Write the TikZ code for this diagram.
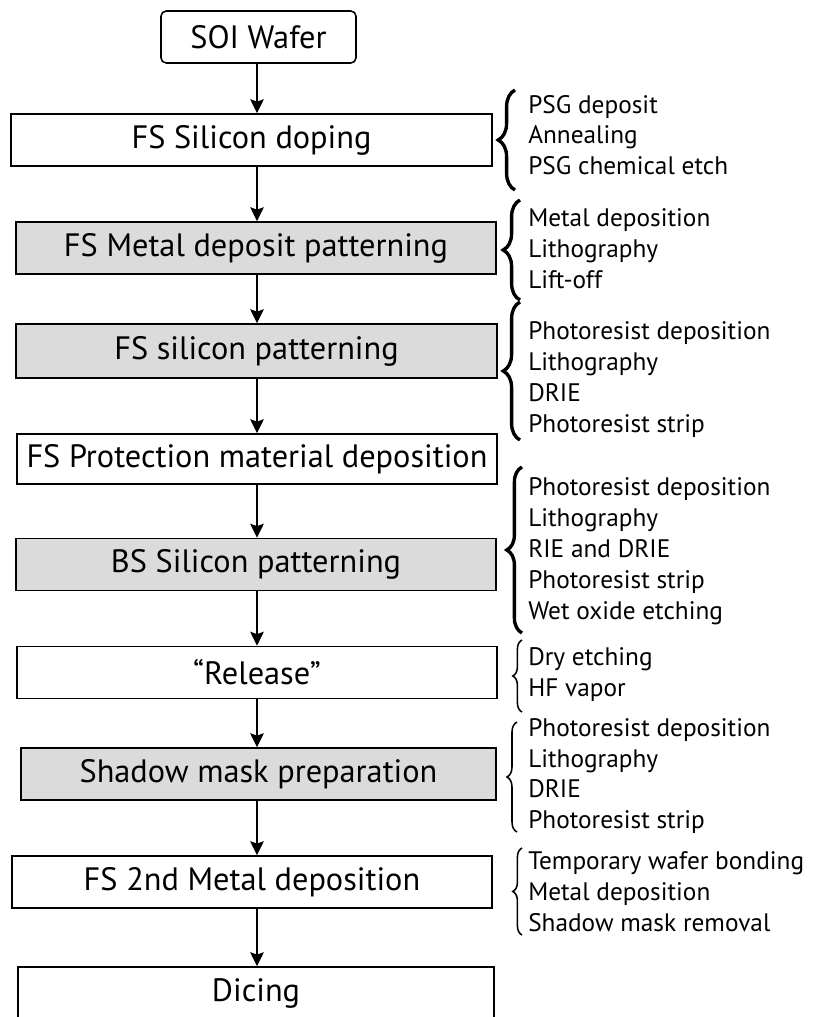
\documentclass[tikz,border=0pt]{standalone}
\usepackage{fontspec}
\setmainfont{PT Sans}
\usetikzlibrary{arrows.meta,decorations.pathreplacing}

\begin{document}
\begin{tikzpicture}[
  stage/.style={draw, line width=1.1pt, minimum height=1.3cm, inner sep=0pt, font=\fontsize{23}{26}\selectfont},
  grey/.style={stage, fill=black!14},
  substeps/.style={anchor=west, align=left, inner sep=0pt, font=\fontsize{18}{22}\selectfont},
  flow/.style={-{Stealth[length=3.5mm,width=3.4mm,inset=0.6mm]}, line width=0.9pt},
  curly/.style={decorate, decoration={brace, amplitude=#1}, line width=2.4pt},
  thincurly/.style={curly=#1, line width=1.1pt}
]
\useasboundingbox (0,0) rectangle (20.35,-25.425);
\coordinate (axis) at (6.425,0);

\node [stage, rounded corners=1.3mm, minimum width=4.875cm] (soi) at (6.4625,-0.925) {SOI Wafer};
\node [stage, minimum width=12.025cm] (doping) at (6.2875,-3.5) {FS Silicon doping};
\node [grey, minimum width=12cm] (metal) at (6.4,-6.2) {FS Metal deposit patterning};
\node [grey, minimum width=12.025cm, minimum height=1.35cm] (fssi) at (6.4125,-8.775) {FS silicon patterning};
\node [stage, minimum width=12cm, minimum height=1.25cm] (protect) at (6.425,-11.475) {FS Protection material deposition};
\node [grey, minimum width=12cm] (bssi) at (6.4,-14.1125) {BS Silicon patterning};
\node [stage, minimum width=12cm] (release) at (6.425,-16.8125) {“Release”};
\node [grey, minimum width=11.875cm] (shadow) at (6.4625,-19.35) {Shadow mask preparation};
\node [stage, minimum width=12cm] (metaltwo) at (6.3,-22.05) {FS 2nd Metal deposition};
\node [stage, minimum width=11.9cm] (dicing) at (6.4,-24.825) {Dicing};

\foreach \a/\b in {soi/doping, doping/metal, metal/fssi, fssi/protect, protect/bssi, bssi/release, release/shadow, shadow/metaltwo, metaltwo/dicing}
  \draw [flow] (\a.south -| axis) -- (\b.north -| axis);

\node [substeps] (dopingsteps) at (13.2,-3.445) {\strut PSG deposit\\Annealing\\PSG chemical etch\strut};
\node [substeps] (metalsteps) at (13.2,-6.2825) {\strut Metal deposition\\Lithography\\Lift-off\strut};
\node [substeps] (fssisteps) at (13.2,-9.495) {\strut Photoresist deposition\\Lithography\\DRIE\\Photoresist strip\strut};
\node [substeps] (bssisteps) at (13.2,-13.7825) {\strut Photoresist deposition\\Lithography\\RIE and DRIE\\Photoresist strip\\Wet oxide etching\strut};
\node [substeps] (releasesteps) at (13.2,-16.87) {\strut Dry etching\\HF vapor\strut};
\node [substeps] (shadowsteps) at (13.2,-19.4075) {\strut Photoresist deposition\\Lithography\\DRIE\\Photoresist strip\strut};
\node [substeps] (metaltwosteps) at (13.2,-22.3575) {\strut Temporary wafer bonding\\Metal deposition\\Shadow mask removal\strut};

\draw [curly=4.2mm] (12.875,-4.75) -- (12.875,-2.25);
\draw [curly=4.2mm] (13.0,-7.5) -- (13.0,-5.0);
\draw [curly=4.2mm] (13.0,-11.0) -- (13.0,-7.55);
\draw [curly=3.8mm] (13.05,-15.825) -- (13.05,-11.675);
\draw [thincurly=2.3mm] (13.05,-17.8) -- (13.05,-16.0);
\draw [thincurly=2.5mm] (12.925,-20.8) -- (12.925,-18.05);
\draw [thincurly=2.3mm] (13.05,-23.375) -- (13.05,-21.2);

\end{tikzpicture}
\end{document}
